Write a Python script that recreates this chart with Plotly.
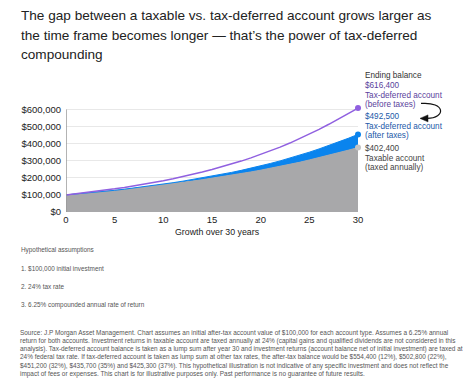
import plotly.graph_objects as go

years = list(range(0, 31))
before_tax = [100000, 106250, 112891, 119946, 127443, 135408, 143871, 152863, 162417, 172568,
              183354, 194813, 206989, 219926, 233671, 248276, 263793, 280280, 297797, 316410,
              336185, 357197, 379522, 403242, 428444, 455222, 483674, 513000, 543000, 575000,
              608000]
after_tax = [100000, 104750, 109797, 115159, 120857, 126910, 133342, 140176, 147437, 155152,
             163000, 171500, 180400, 189800, 199300, 209000, 220000, 231500, 243500, 256000,
             269500, 284000, 299000, 315000, 332000, 350000, 369000, 389000, 409000, 431000,
             454000]
taxable = [100000, 104750, 109726, 114938, 120397, 126116, 132107, 138382, 144955, 151840,
           159000, 166000, 173300, 180900, 188900, 197200, 205900, 215000, 224500, 234400,
           244700, 255500, 266800, 278600, 290900, 304500, 318000, 332000, 346500, 361500,
           377000]
y_ticks = [0, 100000, 200000, 300000, 400000, 500000, 600000]
y_tick_text = ["$0", "$100,000", "$200,000", "$300,000", "$400,000", "$500,000", "$600,000"]
x_ticks = [0, 5, 10, 15, 20, 25, 30]

title_lines = ["The gap between a taxable vs. tax-deferred account grows larger as",
               "the time frame becomes longer \u2014 that\u2019s the power of tax-deferred",
               "compounding"]
assumption_lines = ["Hypothetical assumptions", "1. $100,000 initial investment",
                    "2. 24% tax rate", "3. 6.25% compounded annual rate of return"]
source_lines = [
    "Source: J.P Morgan Asset Management. Chart assumes an initial after-tax account value of $100,000 for each account type. Assumes a 6.25% annual",
    "return for both accounts. Investment returns in taxable account are taxed annually at 24% (capital gains and qualified dividends are not considered in this",
    "analysis). Tax-deferred account balance is taken as a lump sum after year 30 and investment returns (account balance net of initial investment) are taxed at",
    "24% federal tax rate. If tax-deferred account is taken as lump sum at other tax rates, the after-tax balance would be $554,400 (12%), $502,800 (22%),",
    "$451,200 (32%), $435,700 (35%) and $425,300 (37%). This hypothetical illustration is not indicative of any specific investment and does not reflect the",
    "impact of fees or expenses. This chart is for illustrative purposes only. Past performance is no guarantee of future results.",
]

OFF = 8  # page body margin
Y_MAX = 620000
W, H = 474 - OFF, 387 - OFF
plot_bottom = 212
plot_top = plot_bottom - 103 * Y_MAX / 600000
L, T = 66 - OFF, plot_top - OFF
R = W - (358 - OFF)
B = H - (plot_bottom - OFF)
PW, PH = W - L - R, H - T - B

def px(X):
    return (X - OFF - L) / PW

def py(Y):
    return (H - B - (Y - OFF)) / PH

GRAY = "#a8a8aa"
BLUE = "#0a84ee"
PURPLE = "#9060e0"
FONT = "Liberation Sans"

fig = go.Figure()
fig.add_trace(go.Scatter(x=years, y=taxable, mode="lines", line=dict(color=GRAY, width=1),
                         fill="tozeroy", fillcolor=GRAY, hoverinfo="skip"))
fig.add_trace(go.Scatter(x=years, y=after_tax, mode="lines", line=dict(color=BLUE, width=1),
                         fill="tonexty", fillcolor=BLUE, hoverinfo="skip"))
fig.add_trace(go.Scatter(x=years, y=before_tax, mode="lines", line=dict(color=PURPLE, width=1.5),
                         hoverinfo="skip"))
fig.add_trace(go.Scatter(x=[years[-1]] * 3, y=[before_tax[-1], after_tax[-1], taxable[-1]],
                         mode="markers", marker=dict(color=[PURPLE, BLUE, "#c4c4c4"], size=6),
                         hoverinfo="skip", cliponaxis=False))

ann = []
for i, t in enumerate(title_lines):
    ann.append(dict(text=t, x=px(19), y=py(15 + i * 19.5), xref="paper", yref="paper",
                    xanchor="left", yanchor="middle", showarrow=False,
                    font=dict(family=FONT, size=13.6, color="#222222")))

right_labels = [
    ("Ending balance", 74.5, "#333333"),
    ("$616,400", 85.3, "#5a3f9c"), ("Tax-deferred account", 95, "#5a3f9c"), ("(before taxes)", 104, "#5a3f9c"),
    ("$492,500", 116.5, "#2259a8"), ("Tax-deferred account", 126, "#2259a8"), ("(after taxes)", 135, "#2259a8"),
    ("$402,400", 148.5, "#444444"), ("Taxable account", 158, "#444444"), ("(taxed annually)", 167, "#444444"),
]
for t, yy, c in right_labels:
    ann.append(dict(text=t, x=px(364), y=py(yy), xref="paper", yref="paper", xanchor="left",
                    yanchor="middle", showarrow=False, borderpad=0,
                    font=dict(family=FONT, size=8.2, color=c)))

ann.append(dict(text="Growth over 30 years", x=px(217), y=py(232), xref="paper", yref="paper",
                xanchor="center", yanchor="middle", showarrow=False,
                font=dict(family=FONT, size=8.8, color="#222222")))

for i, t in enumerate(assumption_lines):
    ann.append(dict(text=t, x=px(19), y=py(250 + i * 18.5), xref="paper", yref="paper",
                    xanchor="left", yanchor="middle", showarrow=False,
                    font=dict(family=FONT, size=6.4, color="#555555")))
for i, t in enumerate(source_lines):
    ann.append(dict(text=t, x=px(19), y=py(333 + i * 8.3), xref="paper", yref="paper",
                    xanchor="left", yanchor="middle", showarrow=False, borderpad=0,
                    font=dict(family=FONT, size=6.45, color="#555555")))

arrow_path = "M %f,%f C %f,%f %f,%f %f,%f" % (px(421), py(103), px(446), py(101),
                                               px(446), py(118), px(427), py(118))
head_path = "M %f,%f L %f,%f L %f,%f Z" % (px(420), py(118), px(428), py(114.5), px(428), py(121.5))
shapes = [
    dict(type="path", path=arrow_path, xref="paper", yref="paper", line=dict(color="#111111", width=1.2)),
    dict(type="path", path=head_path, xref="paper", yref="paper", line=dict(color="#111111", width=0.5),
         fillcolor="#111111"),
    dict(type="line", xref="x", yref="y", x0=0, x1=0, y0=0, y1=600000,
         line=dict(color="#9a9a9a", width=1.5)),
]

fig.update_layout(
    width=W, height=H, margin=dict(l=L, r=R, t=T, b=B, pad=0),
    paper_bgcolor="white", plot_bgcolor="white", showlegend=False,
    annotations=ann, shapes=shapes,
    font=dict(family=FONT, color="#222222"),
)
fig.update_xaxes(range=[0, 30], tickvals=x_ticks, showgrid=False, zeroline=False, showline=False,
                 ticks="", tickfont=dict(family=FONT, size=9.5, color="#222222"))
fig.update_yaxes(range=[0, Y_MAX], tickvals=y_ticks, ticktext=y_tick_text, showgrid=True,
                 gridcolor="#e8e8e8", gridwidth=1, zeroline=False, showline=False,
                 ticks="", ticklabelstandoff=4,
                 tickfont=dict(family=FONT, size=9.5, color="#222222"))

fig.write_html("out.html")
